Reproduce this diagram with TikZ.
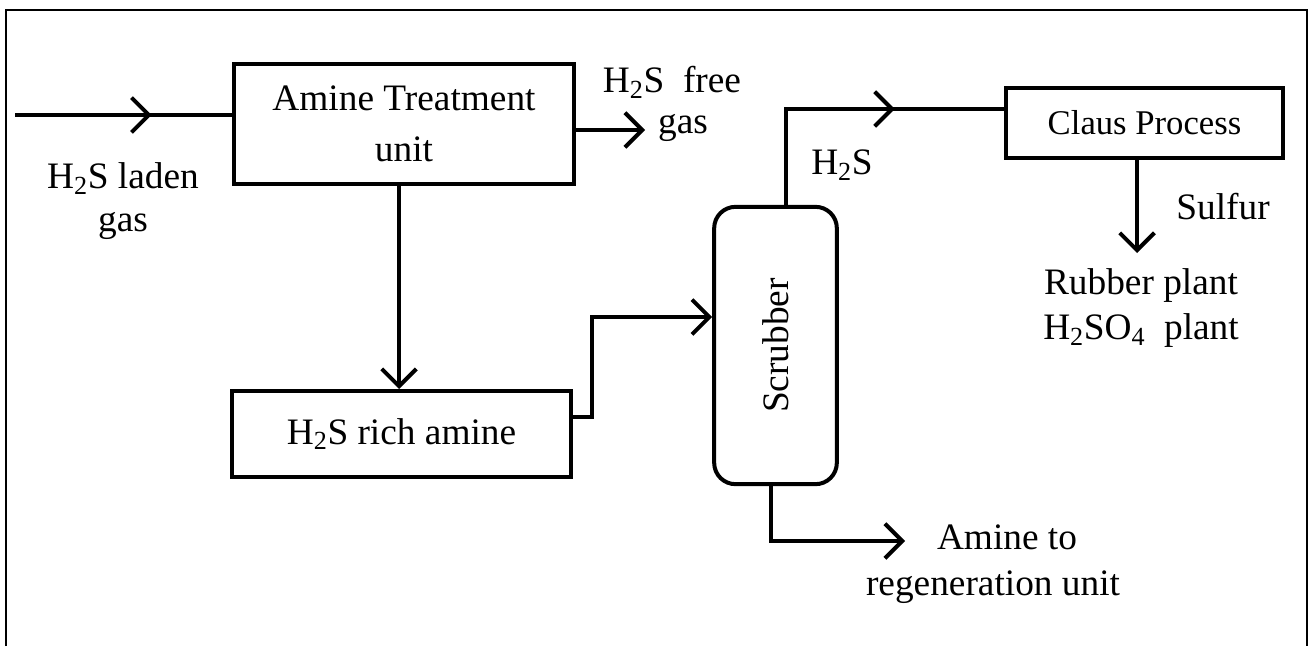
\documentclass[tikz,border=0pt]{standalone}
\usepackage{fontspec}
\setmainfont{Liberation Serif}
\usetikzlibrary{arrows.meta,decorations.markings,calc}

\tikzset{every picture/.style={line width=3pt}}
\tikzset{
  unitbox/.style={draw,line width=3pt,inner sep=0pt,align=center,font=\fontsize{28}{38}\selectfont},
  lbl/.style={inner sep=0pt,align=center,font=\fontsize{28}{34}\selectfont},
  flow/.style={line width=3pt,-{Straight Barb[length=13pt,width=26pt]}},
  midflow/.style={line width=3pt,postaction={decorate},
    decoration={markings,mark=at position #1 with {\arrow{Straight Barb[length=13pt,width=26pt]}}}}
}

\begin{document}
\begin{tikzpicture}[x=0.75pt,y=0.75pt,yscale=-1]
\useasboundingbox (0,0) rectangle (1309,646);

%Frame
\draw [line width=1.5pt] (6,646) -- (6,10) -- (1307,10) -- (1307,646) ;

%Units
\node [unitbox,minimum width=255pt,minimum height=90pt] (amine) at (404,124) {Amine Treatment\\unit};
\node [unitbox,minimum width=254pt,minimum height=64.5pt] (rich) at (401.5,434) {H\textsubscript{2}S rich amine};
\node [unitbox,rounded corners=16pt,minimum width=92pt,minimum height=208pt] (scrub) at (775.5,345.5) {\rotatebox{90}{Scrubber}};
\node [unitbox,minimum width=208pt,minimum height=52pt,font=\fontsize{26}{30}\selectfont] (claus) at (1144.5,123) {Claus Process};

%Free ends
\coordinate (feed) at (15,115);
\coordinate (freeout) at (645,130);
\coordinate (regen) at (905,541);
\coordinate (sulfout) at (1137,253);

%Streams
\draw [midflow=0.63] (feed) -- (feed -| amine.west) ;
\draw [flow] (amine.east |- freeout) -- (freeout) ;
\draw [flow] ($(amine.south)+(-5,0)$) -- ($(amine.south |- rich.north)+(-5,0)$) ;
\draw [flow] ($(rich.east)+(0,-17)$) -- ++(19,0) |- ($(scrub.west)+(0,-28.5)$) ;
\draw [midflow=0.653] ($(scrub.north)+(10,0)$) |- ($(claus.west)+(0,-14)$) ;
\draw [flow] ($(scrub.south)+(-4.5,0)$) |- (regen) ;
\draw [flow] (claus.south -| sulfout) -- (sulfout) ;

% Text Node
\node [lbl,font=\fontsize{28}{32}\selectfont] (laden) at (123,201) {H\textsubscript{2}S laden\\gas};
% Text Node
\node [lbl] (free) at (672,82) {H\textsubscript{2}S\ \ free};
% Text Node
\node [lbl] (freegas) at (683,128) {gas};
% Text Node
\node [lbl] (hs) at (842,165) {H\textsubscript{2}S};
% Text Node
\node [lbl] (amineto) at (1007,537) {Amine to};
% Text Node
\node [lbl] (regenunit) at (993,587) {regeneration unit};
% Text Node
\node [lbl] (sulfur) at (1223,207) {Sulfur};
% Text Node
\node [lbl] (plants) at (1141,308) {Rubber plant\\H\textsubscript{2}SO\textsubscript{4}\ \ plant};

\end{tikzpicture}
\end{document}
